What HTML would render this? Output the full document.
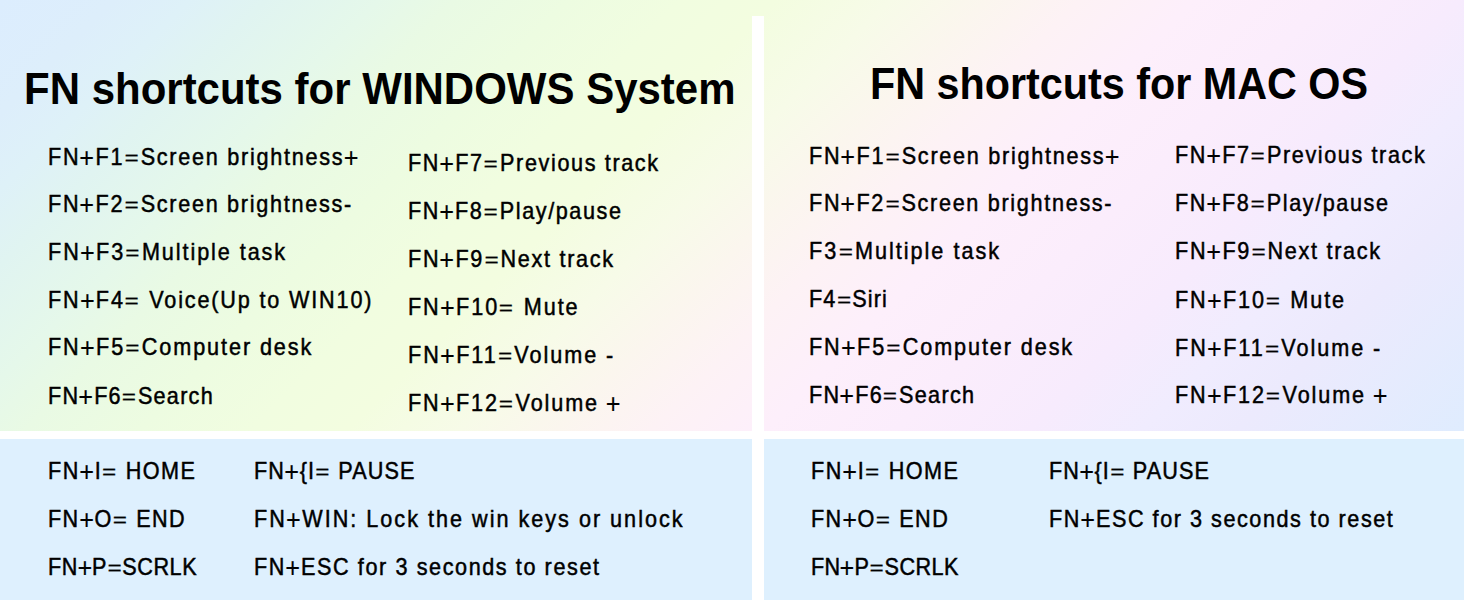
<!DOCTYPE html>
<html><head><meta charset="utf-8"><style>
html,body{margin:0;padding:0;width:1464px;height:600px;overflow:hidden;position:relative}
body{background:#def0fe}
.top{position:absolute;left:0;top:0;width:1464px;height:431px;background:linear-gradient(135deg,#dcedfe 0%,#ddeefb 6%,#def1f8 10%,#e0f4f1 14%,#e5f8ea 20%,#e9fae4 24%,#edfce1 30%,#f1fde0 36%,#f3fde0 41%,#f7fbe8 47%,#fbf6ee 52%,#fdf2f5 57%,#fdeffb 63%,#fbedfc 70%,#f7ebfd 77%,#f0ecfe 83%,#eceafd 88%,#dfecfe 100%)}
.bot{position:absolute;left:0;top:439px;width:1464px;height:161px;background:#def0fe}
.vbar{position:absolute;left:752px;top:16px;width:12px;height:584px;background:#fff}
.hbar{position:absolute;left:0;top:431px;width:1464px;height:8px;background:#fff}
.pl{display:inline-block;-webkit-text-stroke:0.15px #000;margin:0 0.5px;transform:translateY(0.9px) scale(1.17)}
.eq{display:inline-block;-webkit-text-stroke:0.2px #000;margin:0 1.2px;transform:translateY(1.65px) scale(1.13,0.82)}
.t{position:absolute;white-space:nowrap;font-family:"Liberation Sans",sans-serif;line-height:1;color:#000;transform-origin:0 0}

</style></head><body>
<div class="top"></div><div class="bot"></div>
<div class="vbar"></div><div class="hbar"></div>
<div class="t" id="t1" style="left:24.00px;top:66.35px;font-size:45.0px;letter-spacing:0.000px;font-weight:bold;transform:scaleX(0.9331)">FN shortcuts for WINDOWS System</div>
<div class="t" id="t2" style="left:870.00px;top:60.95px;font-size:45.0px;letter-spacing:0.000px;font-weight:bold;transform:scaleX(0.9179)">FN shortcuts for MAC OS</div>
<div class="t" id="a1" style="left:48.00px;top:144.70px;font-size:24.0px;letter-spacing:1.922px;-webkit-text-stroke:0.5px #000;transform:scaleX(0.9000)">FN<span class="pl">+</span>F1<span class="eq">=</span>Screen brightness<span class="pl">+</span></div>
<div class="t" id="a2" style="left:48.00px;top:192.00px;font-size:24.0px;letter-spacing:1.913px;-webkit-text-stroke:0.5px #000;transform:scaleX(0.9000)">FN<span class="pl">+</span>F2<span class="eq">=</span>Screen brightness-</div>
<div class="t" id="a3" style="left:48.00px;top:240.40px;font-size:24.0px;letter-spacing:2.150px;-webkit-text-stroke:0.5px #000;transform:scaleX(0.9000)">FN<span class="pl">+</span>F3<span class="eq">=</span>Multiple task</div>
<div class="t" id="a4" style="left:48.00px;top:288.00px;font-size:24.0px;letter-spacing:2.050px;-webkit-text-stroke:0.5px #000;transform:scaleX(0.9000)">FN<span class="pl">+</span>F4<span class="eq">=</span> Voice(Up to WIN10)</div>
<div class="t" id="a5" style="left:48.00px;top:335.40px;font-size:24.0px;letter-spacing:2.133px;-webkit-text-stroke:0.5px #000;transform:scaleX(0.9000)">FN<span class="pl">+</span>F5<span class="eq">=</span>Computer desk</div>
<div class="t" id="a6" style="left:48.00px;top:383.90px;font-size:24.0px;letter-spacing:1.409px;-webkit-text-stroke:0.5px #000;transform:scaleX(0.9000)">FN<span class="pl">+</span>F6<span class="eq">=</span>Search</div>
<div class="t" id="b1" style="left:408.00px;top:151.40px;font-size:24.0px;letter-spacing:1.811px;-webkit-text-stroke:0.5px #000;transform:scaleX(0.9000)">FN<span class="pl">+</span>F7<span class="eq">=</span>Previous track</div>
<div class="t" id="b2" style="left:408.00px;top:198.60px;font-size:24.0px;letter-spacing:1.760px;-webkit-text-stroke:0.5px #000;transform:scaleX(0.9000)">FN<span class="pl">+</span>F8<span class="eq">=</span>Play/pause</div>
<div class="t" id="b3" style="left:408.00px;top:247.10px;font-size:24.0px;letter-spacing:1.893px;-webkit-text-stroke:0.5px #000;transform:scaleX(0.9000)">FN<span class="pl">+</span>F9<span class="eq">=</span>Next track</div>
<div class="t" id="b4" style="left:408.00px;top:295.40px;font-size:24.0px;letter-spacing:2.145px;-webkit-text-stroke:0.5px #000;transform:scaleX(0.9000)">FN<span class="pl">+</span>F10<span class="eq">=</span> Mute</div>
<div class="t" id="b5" style="left:408.00px;top:343.20px;font-size:24.0px;letter-spacing:2.171px;-webkit-text-stroke:0.5px #000;transform:scaleX(0.9000)">FN<span class="pl">+</span>F11<span class="eq">=</span>Volume -</div>
<div class="t" id="b6" style="left:408.00px;top:391.10px;font-size:24.0px;letter-spacing:2.100px;-webkit-text-stroke:0.5px #000;transform:scaleX(0.9000)">FN<span class="pl">+</span>F12<span class="eq">=</span>Volume <span class="pl">+</span></div>
<div class="t" id="c1" style="left:809.00px;top:143.50px;font-size:24.0px;letter-spacing:1.926px;-webkit-text-stroke:0.5px #000;transform:scaleX(0.9000)">FN<span class="pl">+</span>F1<span class="eq">=</span>Screen brightness<span class="pl">+</span></div>
<div class="t" id="c2" style="left:809.00px;top:191.40px;font-size:24.0px;letter-spacing:1.883px;-webkit-text-stroke:0.5px #000;transform:scaleX(0.9000)">FN<span class="pl">+</span>F2<span class="eq">=</span>Screen brightness-</div>
<div class="t" id="c3" style="left:809.00px;top:238.80px;font-size:24.0px;letter-spacing:2.220px;-webkit-text-stroke:0.5px #000;transform:scaleX(0.9000)">F3<span class="eq">=</span>Multiple task</div>
<div class="t" id="c4" style="left:809.00px;top:287.30px;font-size:24.0px;letter-spacing:1.250px;-webkit-text-stroke:0.5px #000;transform:scaleX(0.9000)">F4<span class="eq">=</span>Siri</div>
<div class="t" id="c5" style="left:809.00px;top:334.90px;font-size:24.0px;letter-spacing:2.122px;-webkit-text-stroke:0.5px #000;transform:scaleX(0.9000)">FN<span class="pl">+</span>F5<span class="eq">=</span>Computer desk</div>
<div class="t" id="c6" style="left:809.00px;top:383.00px;font-size:24.0px;letter-spacing:1.445px;-webkit-text-stroke:0.5px #000;transform:scaleX(0.9000)">FN<span class="pl">+</span>F6<span class="eq">=</span>Search</div>
<div class="t" id="d1" style="left:1175.00px;top:143.10px;font-size:24.0px;letter-spacing:1.789px;-webkit-text-stroke:0.5px #000;transform:scaleX(0.9000)">FN<span class="pl">+</span>F7<span class="eq">=</span>Previous track</div>
<div class="t" id="d2" style="left:1175.00px;top:190.90px;font-size:24.0px;letter-spacing:1.760px;-webkit-text-stroke:0.5px #000;transform:scaleX(0.9000)">FN<span class="pl">+</span>F8<span class="eq">=</span>Play/pause</div>
<div class="t" id="d3" style="left:1175.00px;top:238.70px;font-size:24.0px;letter-spacing:1.893px;-webkit-text-stroke:0.5px #000;transform:scaleX(0.9000)">FN<span class="pl">+</span>F9<span class="eq">=</span>Next track</div>
<div class="t" id="d4" style="left:1175.00px;top:287.70px;font-size:24.0px;letter-spacing:2.091px;-webkit-text-stroke:0.5px #000;transform:scaleX(0.9000)">FN<span class="pl">+</span>F10<span class="eq">=</span> Mute</div>
<div class="t" id="d5" style="left:1175.00px;top:335.60px;font-size:24.0px;letter-spacing:2.171px;-webkit-text-stroke:0.5px #000;transform:scaleX(0.9000)">FN<span class="pl">+</span>F11<span class="eq">=</span>Volume -</div>
<div class="t" id="d6" style="left:1175.00px;top:383.40px;font-size:24.0px;letter-spacing:2.100px;-webkit-text-stroke:0.5px #000;transform:scaleX(0.9000)">FN<span class="pl">+</span>F12<span class="eq">=</span>Volume <span class="pl">+</span></div>
<div class="t" id="e1" style="left:48.00px;top:459.20px;font-size:24.0px;letter-spacing:1.600px;-webkit-text-stroke:0.5px #000;transform:scaleX(0.9000)">FN<span class="pl">+</span>I<span class="eq">=</span> HOME</div>
<div class="t" id="e2" style="left:48.00px;top:507.20px;font-size:24.0px;letter-spacing:1.550px;-webkit-text-stroke:0.5px #000;transform:scaleX(0.9000)">FN<span class="pl">+</span>O<span class="eq">=</span> END</div>
<div class="t" id="e3" style="left:48.00px;top:555.40px;font-size:24.0px;letter-spacing:0.622px;-webkit-text-stroke:0.5px #000;transform:scaleX(0.9000)">FN<span class="pl">+</span>P<span class="eq">=</span>SCRLK</div>
<div class="t" id="f1" style="left:254.00px;top:459.20px;font-size:24.0px;letter-spacing:1.273px;-webkit-text-stroke:0.5px #000;transform:scaleX(0.9000)">FN<span class="pl">+</span>{I<span class="eq">=</span> PAUSE</div>
<div class="t" id="f2" style="left:254.00px;top:507.20px;font-size:24.0px;letter-spacing:2.226px;-webkit-text-stroke:0.5px #000;transform:scaleX(0.9000)">FN<span class="pl">+</span>WIN: Lock the win keys or unlock</div>
<div class="t" id="f3" style="left:254.00px;top:555.40px;font-size:24.0px;letter-spacing:1.768px;-webkit-text-stroke:0.5px #000;transform:scaleX(0.9000)">FN<span class="pl">+</span>ESC for 3 seconds to reset</div>
<div class="t" id="g1" style="left:811.00px;top:459.20px;font-size:24.0px;letter-spacing:1.611px;-webkit-text-stroke:0.5px #000;transform:scaleX(0.9000)">FN<span class="pl">+</span>I<span class="eq">=</span> HOME</div>
<div class="t" id="g2" style="left:811.00px;top:507.20px;font-size:24.0px;letter-spacing:1.562px;-webkit-text-stroke:0.5px #000;transform:scaleX(0.9000)">FN<span class="pl">+</span>O<span class="eq">=</span> END</div>
<div class="t" id="g3" style="left:811.00px;top:555.40px;font-size:24.0px;letter-spacing:0.467px;-webkit-text-stroke:0.5px #000;transform:scaleX(0.9000)">FN<span class="pl">+</span>P<span class="eq">=</span>SCRLK</div>
<div class="t" id="h1" style="left:1049.00px;top:459.20px;font-size:24.0px;letter-spacing:1.200px;-webkit-text-stroke:0.5px #000;transform:scaleX(0.9000)">FN<span class="pl">+</span>{I<span class="eq">=</span> PAUSE</div>
<div class="t" id="h2" style="left:1049.00px;top:507.20px;font-size:24.0px;letter-spacing:1.721px;-webkit-text-stroke:0.5px #000;transform:scaleX(0.9000)">FN<span class="pl">+</span>ESC for 3 seconds to reset</div>
</body></html>
